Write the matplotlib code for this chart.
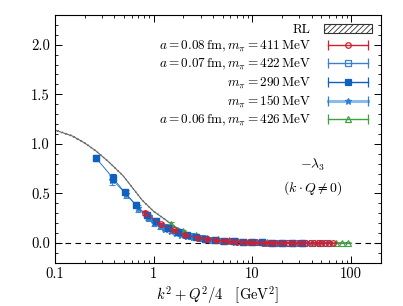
import matplotlib
matplotlib.use("Agg")
import matplotlib.pyplot as plt
from matplotlib.patches import Patch
from matplotlib.lines import Line2D
from matplotlib.legend_handler import HandlerLine2D, HandlerTuple
import numpy as np

plt.rcParams['font.family'] = 'cmr10'
plt.rcParams['mathtext.fontset'] = 'cm'
plt.rcParams['axes.formatter.use_mathtext'] = True
plt.rcParams['hatch.linewidth'] = 0.6

# RL band (Rainbow-ladder)
rl_x = [0.1, 0.15, 0.2, 0.26, 0.35, 0.49, 0.62, 0.77, 1.0, 1.3, 1.6, 2.0, 2.5, 3.0, 4.0, 6.0,
        10.0, 20.0, 50.0, 100.0]
rl_y = [1.14, 1.08, 1.01, 0.93, 0.82, 0.68, 0.55, 0.43, 0.32, 0.24, 0.17, 0.12, 0.085, 0.06,
        0.035, 0.018, 0.008, 0.003, 0.001, 0.0]

# a = 0.08 fm, m_pi = 411 MeV
red_x = [0.81, 1.2, 1.6, 2.1, 2.8, 3.5, 4.3, 5.2, 6.0, 7.0, 8.2, 9.5, 11, 13, 15, 17, 20, 23, 26, 30,
         34, 38, 42, 46, 50, 55, 60, 65]
red_y = [0.30, 0.19, 0.13, 0.085, 0.055, 0.040, 0.030, 0.022, 0.016, 0.012, 0.009, 0.007, 0.006,
         0.005, 0.004, 0.003, 0.003, 0.002, 0.002, 0.002, 0.001, 0.001, 0.001, 0.001, 0.0, 0.0, 0.0, 0.0]
red_e = [0.02, 0.015, 0.012, 0.01, 0.008, 0.006, 0.005, 0.004, 0.004, 0.003, 0.003, 0.003, 0.002,
         0.002, 0.002, 0.002, 0.002, 0.002, 0.002, 0.002, 0.002, 0.002, 0.002, 0.002, 0.002, 0.002, 0.002, 0.002]

# a = 0.07 fm, m_pi = 422 MeV
bo_x = [0.9, 1.3, 1.8, 2.4, 3.1, 4.0, 5.0, 6.3, 8.0, 10, 12.5, 15, 18, 22, 27, 33, 40, 48, 57]
bo_y = [0.25, 0.16, 0.11, 0.07, 0.05, 0.035, 0.025, 0.018, 0.012, 0.008, 0.006, 0.004, 0.003,
        0.002, 0.002, 0.001, 0.001, 0.0, 0.0]
bo_e = [0.02, 0.015, 0.01, 0.008, 0.006, 0.005, 0.004, 0.003, 0.003, 0.002, 0.002, 0.002, 0.002,
        0.002, 0.002, 0.002, 0.002, 0.002, 0.002]

# m_pi = 290 MeV
bf_x = [0.26, 0.385, 0.51, 0.67, 0.85, 1.05, 1.40, 1.75, 2.2, 2.7, 3.3, 4.2, 5.2, 6.5, 8.0, 10, 12.5,
        16, 20, 25, 32]
bf_y = [0.86, 0.66, 0.51, 0.38, 0.28, 0.22, 0.15, 0.11, 0.08, 0.06, 0.045, 0.032, 0.022, 0.016, 0.011,
        0.008, 0.006, 0.004, 0.003, 0.002, 0.001]
bf_e = [0.03, 0.04, 0.02, 0.03, 0.025, 0.03, 0.02, 0.015, 0.012, 0.01, 0.008, 0.006, 0.005, 0.004, 0.003,
        0.003, 0.002, 0.002, 0.002, 0.002, 0.002]

# m_pi = 150 MeV
st_x = [0.38, 0.53, 0.70, 0.87, 1.0, 1.15, 1.3, 1.5, 1.7, 1.9, 2.2, 2.5, 2.9, 3.3, 3.8, 4.4, 5.0,
        5.8, 6.7, 7.8, 9.0, 11, 13, 15, 18]
st_y = [0.64, 0.49, 0.35, 0.26, 0.20, 0.17, 0.14, 0.12, 0.10, 0.085, 0.07, 0.06, 0.05, 0.04, 0.032,
        0.026, 0.02, 0.016, 0.012, 0.01, 0.008, 0.006, 0.004, 0.003, 0.002]
st_e = [0.05, 0.04, 0.035, 0.03, 0.03, 0.025, 0.02, 0.02, 0.018, 0.015, 0.012, 0.01, 0.01, 0.008,
        0.007, 0.006, 0.005, 0.005, 0.004, 0.004, 0.003, 0.003, 0.003, 0.003, 0.003]

# a = 0.06 fm, m_pi = 426 MeV
gr_x = [1.5, 2.0, 2.7, 3.5, 4.5, 5.8, 7.2, 9.0, 11, 14, 17, 21, 26, 32, 40, 50, 60, 70, 80, 92]
gr_y = [0.19, 0.12, 0.08, 0.055, 0.04, 0.028, 0.02, 0.014, 0.01, 0.007, 0.005, 0.004, 0.003,
        0.002, 0.001, 0.001, 0.0, 0.0, 0.0, 0.0]
gr_e = [0.02, 0.015, 0.01, 0.008, 0.006, 0.005, 0.004, 0.003, 0.003, 0.002, 0.002, 0.002, 0.002,
        0.002, 0.002, 0.002, 0.002, 0.002, 0.002, 0.002]

labels = [r'$a=0.08\,\mathrm{fm}, m_\pi=411\,\mathrm{MeV}$',
          r'$a=0.07\,\mathrm{fm}, m_\pi=422\,\mathrm{MeV}$',
          r'$m_\pi=290\,\mathrm{MeV}$',
          r'$m_\pi=150\,\mathrm{MeV}$',
          r'$a=0.06\,\mathrm{fm}, m_\pi=426\,\mathrm{MeV}$']

c_red = '#d02030'
c_bo = '#3a80cc'
c_bf = '#1060c0'
c_st = '#2a7fd0'
c_st_light = '#8cbbe8'
c_gr = '#3fa03f'

fig = plt.figure(figsize=(4.03, 3.06), dpi=100)
ax = fig.add_axes([0.136, 0.141, 0.809, 0.810])

ax.axhline(0, color='k', ls=(0, (5, 4)), lw=0.8, zorder=1)

# RL band
rl_y = np.array(rl_y)
ax.fill_between(rl_x, rl_y - 0.012, rl_y + 0.012, facecolor='none', edgecolor='#555555',
                hatch='//////', lw=0, zorder=2)
ax.plot(rl_x, rl_y, color='#666666', lw=0.8, zorder=2)

kw = dict(ms=4, lw=0.6, elinewidth=0.8, capsize=2, capthick=0.8)
ax.errorbar(gr_x, gr_y, yerr=gr_e, fmt='^-', color=c_gr, mfc='none', mew=0.8, zorder=3, **kw)
ax.errorbar(st_x, st_y, yerr=st_e, fmt='*-', color=c_st, zorder=4, alpha=0.9,
            ms=5, lw=0.6, elinewidth=0.8, capsize=2, capthick=0.8)
ax.errorbar(bf_x, bf_y, yerr=bf_e, fmt='s-', color=c_bf, zorder=5, **kw)
ax.errorbar(bo_x, bo_y, yerr=bo_e, fmt='s-', color=c_bo, mfc='none', mew=0.8, zorder=4, **kw)
ax.errorbar(red_x, red_y, yerr=red_e, fmt='o-', color=c_red, mfc='none', mew=0.9, zorder=6, **kw)


# legend handles: horizontal bar with end caps and a marker in the middle
def leg_handle(color, bar_color, marker, mfc, ms, lw=1.0):
    bar = Line2D([], [], color=bar_color, lw=lw, marker='|', ms=7, mew=0.9, mec=color)
    mk = Line2D([], [], color=color, lw=0, marker=marker, mfc=mfc, ms=ms, mew=0.9)
    return (bar, mk), bar


handles = []
hmap = {}
for col, bcol, mk, mfc, ms, lw in [(c_red, c_red, 'o', 'none', 4, 1.0),
                                   (c_bo, c_bo, 's', 'none', 4, 1.0),
                                   (c_bf, c_bf, 's', c_bf, 4, 1.0),
                                   (c_st, c_st_light, '*', c_st, 5, 2.2),
                                   (c_gr, c_gr, '^', 'none', 4, 1.0)]:
    h, bar = leg_handle(col, bcol, mk, mfc, ms, lw)
    handles.append(h)
    hmap[bar] = HandlerLine2D(numpoints=2)
hmap[tuple] = HandlerTuple(ndivide=1, pad=0)

rl_patch = Patch(facecolor='white', edgecolor='#333333', hatch='//////', lw=0.8)
leg = ax.legend([rl_patch] + handles, ['RL'] + labels, handler_map=hmap,
                loc='upper right', markerfirst=False, frameon=False, fontsize=9.5,
                handlelength=3.6, handleheight=0.6, labelspacing=0.2, borderaxespad=0.3,
                handletextpad=1.0)

ax.text(0.79, 0.395, r'$-\lambda_3$', transform=ax.transAxes, ha='center', va='center', fontsize=10)
ax.text(0.79, 0.30, r'$(k\cdot Q\neq 0)$', transform=ax.transAxes, ha='center', va='center', fontsize=10)

ax.set_xscale('log')
ax.set_xlim(0.1, 200)
ax.set_ylim(-0.2, 2.3)
ax.set_yticks([0.0, 0.5, 1.0, 1.5, 2.0])
ax.set_yticklabels(['0.0', '0.5', '1.0', '1.5', '2.0'])
ax.set_yticks(np.arange(-0.2, 2.31, 0.1), minor=True)
ax.set_xticks([0.1, 1, 10, 100])
ax.set_xticklabels(['0.1', '1', '10', '100'])
ax.tick_params(which='both', direction='in', top=True, right=True, labelsize=10.5)
ax.tick_params(which='major', length=5, width=0.7)
ax.tick_params(which='minor', length=2.5, width=0.6)
for s in ax.spines.values():
    s.set_linewidth(0.8)

ax.set_xlabel(r'$k^2+Q^2/4\quad[\mathrm{GeV}^2]$', fontsize=10.5, labelpad=2)

fig.savefig('out.png', dpi=100)
